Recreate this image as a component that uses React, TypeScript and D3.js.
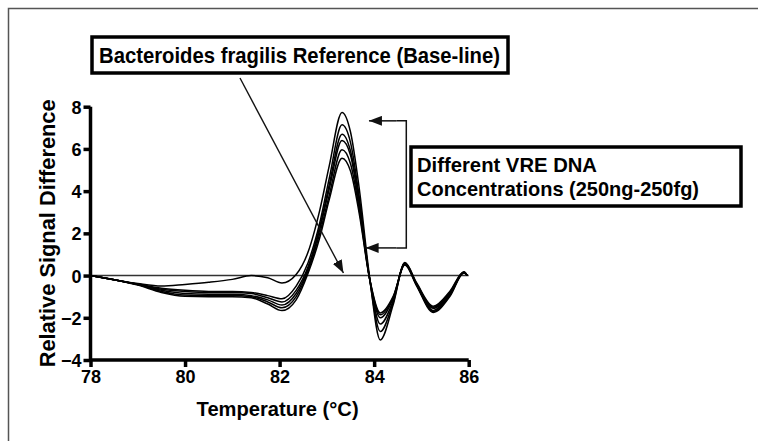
import React, { useEffect, useRef } from 'react';
import * as d3 from 'd3';

// temperatures (°C) sampled along the melt curves
const temps = [78, 78.5, 79, 79.5, 80, 80.5, 81, 81.4, 81.75, 82.05, 82.35, 82.6, 82.85, 83.05, 83.32, 83.5, 83.68, 83.9, 84.13, 84.4, 84.65, 84.9, 85.25, 85.6, 85.9, 85.97];

// relative signal difference for each VRE DNA concentration
const conc1 = [0, -0.2, -0.38, -0.5, -0.42, -0.32, -0.18, 0.0, -0.1, -0.35, 0.05, 1.1, 3.1, 5.2, 7.73, 6.8, 4.2, 0.0, -3.05, -1.4, 0.62, -0.35, -1.45, -0.75, 0.18, 0.0];
const conc2 = [0, -0.2, -0.4, -0.6, -0.7, -0.75, -0.75, -0.8, -0.95, -1.1, -0.5, 0.6, 2.5, 4.6, 7.14, 6.3, 3.8, -0.1, -2.65, -1.3, 0.6, -0.4, -1.5, -0.8, 0.17, 0.0];
const conc3 = [0, -0.2, -0.42, -0.65, -0.75, -0.8, -0.8, -0.85, -1.05, -1.25, -0.7, 0.4, 2.3, 4.3, 6.7, 5.9, 3.6, -0.1, -2.3, -1.2, 0.58, -0.4, -1.55, -0.85, 0.15, 0.0];
const conc4 = [0, -0.2, -0.42, -0.7, -0.85, -0.88, -0.88, -0.95, -1.15, -1.4, -0.85, 0.3, 2.2, 4.1, 6.4, 5.7, 3.4, -0.1, -2.0, -1.1, 0.55, -0.45, -1.65, -0.9, 0.15, 0.0];
const conc5 = [0, -0.2, -0.43, -0.75, -0.92, -0.95, -0.95, -1.0, -1.25, -1.53, -1.0, 0.2, 2.0, 3.8, 5.96, 5.3, 3.2, -0.1, -1.86, -1.05, 0.52, -0.45, -1.7, -0.95, 0.14, 0.0];
const conc6 = [0, -0.2, -0.45, -0.8, -0.98, -1.0, -1.0, -1.05, -1.35, -1.66, -1.15, 0.1, 1.8, 3.6, 5.56, 4.95, 3.0, -0.1, -1.77, -1.0, 0.5, -0.5, -1.75, -1.0, 0.12, 0.0];

const xTicks = [78, 80, 82, 84, 86];
const yTicks = [-4, -2, 0, 2, 4, 6, 8];

const FONT = '"Liberation Sans", Arial, sans-serif';

export default function App() {
  const ref = useRef<SVGSVGElement>(null);

  useEffect(() => {
    const svg = d3.select(ref.current);
    svg.selectAll('*').remove();

    const x = d3.scaleLinear().domain([78, 86]).range([90.5, 468.7]);
    const y = d3.scaleLinear().domain([-4, 8]).range([360, 106.7]);

    // arrow head marker
    svg.append('defs').append('marker')
      .attr('id', 'head')
      .attr('markerUnits', 'userSpaceOnUse')
      .attr('markerWidth', 13)
      .attr('markerHeight', 10)
      .attr('refX', 13)
      .attr('refY', 5)
      .attr('orient', 'auto')
      .append('path')
      .attr('d', 'M0,0 L13,5 L0,10 z')
      .attr('fill', '#111');

    // outer frame (top + left edges)
    svg.append('path')
      .attr('d', 'M8.5,441 L8.5,8.5 L758,8.5')
      .attr('fill', 'none')
      .attr('stroke', '#555')
      .attr('stroke-width', 1.5);

    // baseline reference at zero
    svg.append('line')
      .attr('x1', x(78)).attr('x2', x(86))
      .attr('y1', y(0)).attr('y2', y(0))
      .attr('stroke', '#333')
      .attr('stroke-width', 1.5);

    const line = d3.line<number>()
      .x((d, i) => x(temps[i]))
      .y(d => y(d))
      .curve(d3.curveMonotoneX);

    const series = [conc6, conc5, conc4, conc3, conc2, conc1];
    svg.selectAll('.melt')
      .data(series)
      .enter().append('path')
      .attr('class', 'melt')
      .attr('d', d => line(d))
      .attr('fill', 'none')
      .attr('stroke', '#000')
      .attr('stroke-width', 1.5);

    // axes
    const xAxis = svg.append('g')
      .attr('transform', 'translate(0,' + y(-4) + ')')
      .call(d3.axisBottom(x).tickValues(xTicks).tickSize(7).tickPadding(3).tickFormat(d3.format('d')));
    const yAxis = svg.append('g')
      .attr('transform', 'translate(' + x(78) + ',0)')
      .call(d3.axisLeft(y).tickValues(yTicks).tickSize(7).tickPadding(2).tickFormat(d3.format('d')));

    [xAxis, yAxis].forEach(g => {
      g.select('.domain').attr('stroke', '#000').attr('stroke-width', 3.5);
      g.selectAll('.tick line').attr('stroke', '#000').attr('stroke-width', 3.5);
      g.selectAll('.tick text')
        .attr('fill', '#000')
        .style('font-family', FONT)
        .style('font-weight', 'bold')
        .style('font-size', '18px');
    });
    xAxis.select('.domain').attr('d', 'M' + x(78) + ',0H' + x(86));
    yAxis.select('.domain').attr('d', 'M0,' + y(8) + 'V' + y(-4));
    yAxis.selectAll('.tick text').attr('dy', '0.36em');

    // axis titles
    svg.append('text')
      .attr('x', (x(78) + x(86)) / 2 - 2)
      .attr('y', 416)
      .attr('text-anchor', 'middle')
      .attr('textLength', 162)
      .attr('lengthAdjust', 'spacingAndGlyphs')
      .style('font-family', FONT)
      .style('font-weight', 'bold')
      .style('font-size', '21px')
      .text('Temperature (°C)');

    svg.append('text')
      .attr('transform', 'translate(55,' + (y(8) + y(-4)) / 2 + ') rotate(-90)')
      .attr('text-anchor', 'middle')
      .attr('textLength', 268)
      .attr('lengthAdjust', 'spacingAndGlyphs')
      .style('font-family', FONT)
      .style('font-weight', 'bold')
      .style('font-size', '22px')
      .text('Relative Signal Difference');

    // annotation: reference baseline
    svg.append('rect')
      .attr('x', 92).attr('y', 37)
      .attr('width', 416).attr('height', 36)
      .attr('fill', '#fff')
      .attr('stroke', '#000')
      .attr('stroke-width', 3.5);
    svg.append('text')
      .attr('x', 99).attr('y', 63)
      .attr('textLength', 401)
      .attr('lengthAdjust', 'spacingAndGlyphs')
      .style('font-family', FONT)
      .style('font-weight', 'bold')
      .style('font-size', '22px')
      .text('Bacteroides fragilis Reference (Base-line)');
    svg.append('line')
      .attr('x1', 240).attr('y1', 78)
      .attr('x2', x(83.35)).attr('y2', y(0.12))
      .attr('stroke', '#111')
      .attr('stroke-width', 1.4)
      .attr('marker-end', 'url(#head)');

    // annotation: concentration range bracket
    const bx = x(84.68);
    svg.append('path')
      .attr('d', 'M' + (bx - 10) + ',' + y(7.33) + 'H' + bx + 'V' + y(1.31) + 'H' + (bx - 10))
      .attr('fill', 'none')
      .attr('stroke', '#111')
      .attr('stroke-width', 1.5);
    svg.append('line')
      .attr('x1', bx - 10).attr('y1', y(7.33))
      .attr('x2', x(83.89)).attr('y2', y(7.33))
      .attr('stroke', '#111').attr('stroke-width', 1.5)
      .attr('marker-end', 'url(#head)');
    svg.append('line')
      .attr('x1', bx - 10).attr('y1', y(1.31))
      .attr('x2', x(83.82)).attr('y2', y(1.31))
      .attr('stroke', '#111').attr('stroke-width', 1.5)
      .attr('marker-end', 'url(#head)');

    svg.append('rect')
      .attr('x', 411).attr('y', 147)
      .attr('width', 330).attr('height', 59)
      .attr('fill', '#fff')
      .attr('stroke', '#000')
      .attr('stroke-width', 3.5);
    const lines = ['Different VRE DNA', 'Concentrations (250ng-250fg)'];
    const lineWidths = [180, 282];
    svg.selectAll('.conc-label')
      .data(lines)
      .enter().append('text')
      .attr('class', 'conc-label')
      .attr('x', 417)
      .attr('y', (d, i) => 172 + i * 23.5)
      .attr('textLength', (d, i) => lineWidths[i])
      .attr('lengthAdjust', 'spacingAndGlyphs')
      .style('font-family', FONT)
      .style('font-weight', 'bold')
      .style('font-size', '21px')
      .text(d => d);
  }, []);

  return (
    <svg
      ref={ref}
      width={758}
      height={441}
      style={{ position: 'absolute', left: 0, top: 0, background: '#fff' }}
    />
  );
}
